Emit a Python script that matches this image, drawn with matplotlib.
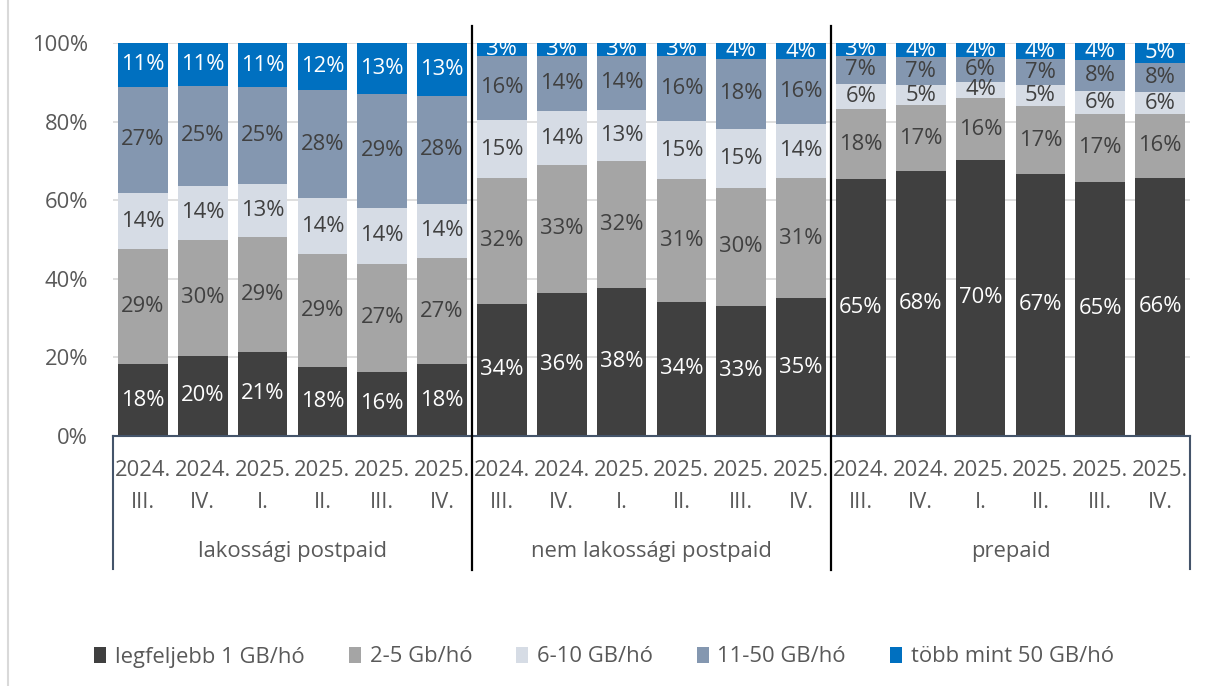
import matplotlib
matplotlib.use("Agg")
import matplotlib.pyplot as plt
from matplotlib.patches import Patch
from matplotlib.lines import Line2D
import matplotlib.transforms as mtransforms
import numpy as np

plt.rcParams['font.family'] = ['Open Sans', 'DejaVu Sans']

groups = ["lakossági postpaid", "nem lakossági postpaid", "prepaid"]
periods = ["2024.\nIII.", "2024.\nIV.", "2025.\nI.", "2025.\nII.", "2025.\nIII.", "2025.\nIV."]

series_names = ["legfeljebb 1 GB/hó", "2-5 Gb/hó", "6-10 GB/hó", "11-50 GB/hó", "több mint 50 GB/hó"]

le1 = [18.2, 20.4, 21.4, 17.6, 16.4, 18.2,
       33.7, 36.4, 37.7, 34.1, 33.1, 35.0,
       65.4, 67.5, 70.3, 66.7, 64.7, 65.7]
gb2_5 = [29.3, 29.6, 29.2, 28.6, 27.4, 27.2,
         31.9, 32.6, 32.3, 31.3, 30.0, 30.6,
         17.8, 16.6, 15.6, 17.2, 17.2, 16.2]
gb6_10 = [14.3, 13.7, 13.4, 14.3, 14.3, 13.6,
          14.8, 13.6, 13.0, 14.7, 15.0, 13.9,
          6.4, 5.1, 4.3, 5.3, 6.0, 5.6]
gb11_50 = [27.1, 25.4, 24.8, 27.6, 29.0, 27.6,
           16.3, 14.1, 13.7, 16.5, 17.9, 16.4,
           7.1, 7.2, 6.2, 6.7, 7.8, 7.5]
gb50p = [11.2, 10.9, 11.2, 11.9, 12.9, 13.4,
         3.3, 3.3, 3.3, 3.4, 4.0, 4.1,
         3.3, 3.6, 3.6, 4.1, 4.3, 5.0]

series = [le1, gb2_5, gb6_10, gb11_50, gb50p]
colors = ["#404040", "#a5a5a5", "#d6dce5", "#8497b0", "#0070c0"]
label_colors = ["white", "#404040", "#404040", "#404040", "white"]

FS = 15.8
W, H = 1208, 686
fig = plt.figure(figsize=(W / 100, H / 100), dpi=100)
ax = fig.add_axes([113 / W, 1 - 436 / H, (1190 - 113) / W, (436 - 43) / H])

n = len(le1)
x = np.arange(n)
bottom = np.zeros(n)
for vals, c, lc in zip(series, colors, label_colors):
    v = np.array(vals) / 100.0
    ax.bar(x, v, bottom=bottom, width=0.83, color=c, zorder=2)
    for xi, b, h in zip(x, bottom, v):
        ax.text(xi, b + h / 2, f"{round(h * 100):d}%", ha="center", va="center",
                color=lc, fontsize=FS, zorder=3)
    bottom = bottom + v

ax.set_xlim(-0.5, n - 0.5)
ax.set_ylim(0, 1)
ax.set_yticks(np.arange(0, 1.01, 0.2))
ax.set_yticklabels([f"{int(t * 100)}%" for t in np.arange(0, 1.01, 0.2)])
ax.tick_params(axis="y", length=0, labelsize=FS, labelcolor="#595959", pad=18)
ax.grid(axis="y", color="#d9d9d9", linewidth=1.2, zorder=0)
ax.set_xticks([])
for s in ["left", "right", "top"]:
    ax.spines[s].set_visible(False)
ax.spines["bottom"].set_color("#44546a")
ax.spines["bottom"].set_linewidth(1.5)
ax.spines["bottom"].set_zorder(4)

trans = mtransforms.blended_transform_factory(ax.transData, fig.transFigure)
for i in range(n):
    p = periods[i % 6]
    yr, q = p.split("\n")
    ax.text(i, 1 - 470 / H, yr, transform=trans, ha="center", va="center",
            fontsize=FS, color="#595959", clip_on=False)
    ax.text(i, 1 - 503 / H, q, transform=trans, ha="center", va="center",
            fontsize=FS, color="#595959", clip_on=False)
for g, name in enumerate(groups):
    ax.text(g * 6 + 2.5, 1 - 552 / H, name, transform=trans, ha="center", va="center",
            fontsize=FS, color="#595959", clip_on=False)

for xb in [-0.5, 17.5]:
    ax.add_line(Line2D([xb, xb], [1 - 436 / H, 1 - 569 / H], transform=trans,
                       color="#44546a", linewidth=1.5, clip_on=False))
for xb in [5.5, 11.5]:
    ax.add_line(Line2D([xb, xb], [1 - 26 / H, 1 - 570 / H], transform=trans,
                       color="black", linewidth=1.6, clip_on=False, zorder=5))

fig.add_artist(Line2D([8 / W, 8 / W], [0, 1], transform=fig.transFigure,
                      color="#d9d9d9", linewidth=1.5))

handles = [Patch(facecolor=c, edgecolor="none") for c in colors]
fig.legend(handles, series_names, loc="center", bbox_to_anchor=(0.5, 1 - 657 / H),
           ncol=5, frameon=False, fontsize=FS, handlelength=0.55, handleheight=0.75,
           handletextpad=0.4, columnspacing=2.0, labelcolor="#595959")

fig.savefig("out.png", dpi=100)
